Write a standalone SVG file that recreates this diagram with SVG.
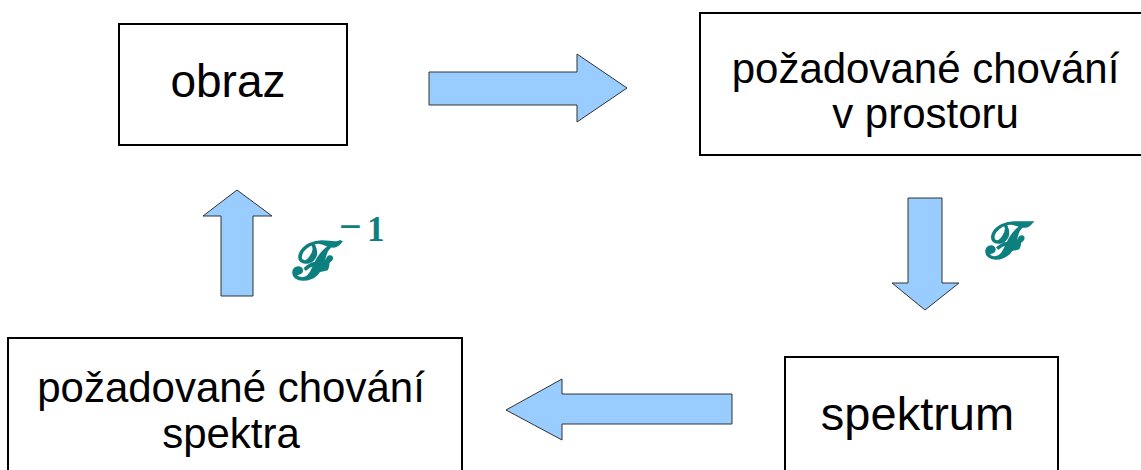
<svg xmlns="http://www.w3.org/2000/svg" width="1141" height="470" viewBox="0 0 1141 470">
  <style>
    .box { fill: #ffffff; stroke: #000000; stroke-width: 2; }
    .lbl { font-family: "Liberation Sans", Arial, sans-serif; fill: #000000; text-anchor: middle; }
    .arrow { fill: #99ccff; stroke: #333333; stroke-width: 1; stroke-linejoin: miter; }
    .op { font-family: "DejaVu Sans", "DejaVu Serif", "Noto Sans", serif; font-weight: bold; fill: #0e7f7f; }
    .sup { font-family: "Liberation Serif", "Times New Roman", serif; font-weight: bold; fill: #0e7f7f; }
  </style>
  <rect width="1141" height="470" fill="#ffffff"/>

  <g id="obraz">
    <rect class="box" x="119" y="24" width="228" height="121"/>
    <text class="lbl" x="228" y="97" font-size="46">obraz</text>
  </g>

  <g id="chovani-prostor">
    <rect class="box" x="700" y="13" width="445" height="142"/>
    <text class="lbl" x="925.5" y="83" font-size="42">požadované chování</text>
    <text class="lbl" x="925.5" y="128" font-size="42">v prostoru</text>
  </g>

  <g id="spektrum">
    <rect class="box" x="785" y="357" width="273" height="120"/>
    <text class="lbl" x="917.5" y="430" font-size="47">spektrum</text>
  </g>

  <g id="chovani-spektra">
    <rect class="box" x="8" y="338" width="454" height="140"/>
    <text class="lbl" x="231" y="402" font-size="42">požadované chování</text>
    <text class="lbl" x="231" y="448" font-size="42">spektra</text>
  </g>

  <g id="connectors">
    <polygon class="arrow" points="429,72 577,72 577,54 627,88 577,122 577,105 429,105"/>
    <polygon class="arrow" points="908,198 942,198 942,283 959,283 925,310 892,283 908,283"/>
    <polygon class="arrow" points="732,394 562,394 562,379 506,410 562,440 562,424 732,424"/>
    <polygon class="arrow" points="221,296 221,216 203,216 237,190 272,216 253,216 253,296"/>
  </g>

  <!-- transform symbols: Fourier and inverse Fourier -->
  <g id="transform-labels">
    <text class="op" x="293" y="279" font-size="54">𝓕</text>
    <text class="sup" y="240"><tspan x="339" font-size="40">−</tspan><tspan x="367" y="241" font-size="35">1</tspan></text>
    <text class="op" x="986" y="258" font-size="52">𝓕</text>
  </g>
</svg>
